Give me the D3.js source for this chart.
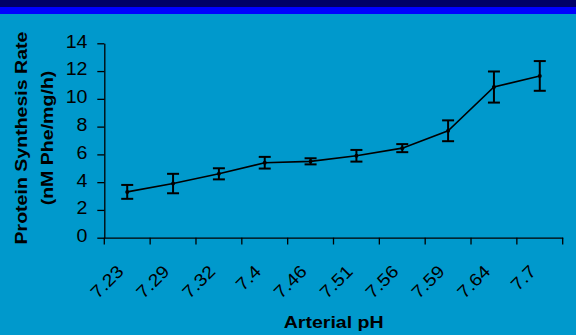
<!DOCTYPE html>
<html><head><meta charset="utf-8">
<script src="https://cdn.jsdelivr.net/npm/d3@7"></script>
<style>body{margin:0;padding:0;background:#0099CC;}svg{display:block;}</style>
</head><body>
<script>
const categories = ["7.23","7.29","7.32","7.4","7.46","7.51","7.56","7.59","7.64","7.7"];
const rates = [3.3, 3.9, 4.6, 5.4, 5.5, 5.9, 6.45, 7.7, 10.85, 11.65];
const errors = [0.5, 0.7, 0.4, 0.42, 0.22, 0.42, 0.29, 0.75, 1.12, 1.07];
const yTicks = [0,2,4,6,8,10,12,14];

const W=576,H=335;
const svg=d3.select("body").append("svg").attr("width",W).attr("height",H);
svg.append("rect").attr("width",W).attr("height",H).attr("fill","#0099CC");
svg.append("rect").attr("width",W).attr("height",7).attr("fill","#000066");
svg.append("rect").attr("y",7).attr("width",W).attr("height",7).attr("fill","#0000FF");

const x=d3.scaleBand().domain(categories).range([104.3,562.7]);
const y=d3.scaleLinear().domain([0,14]).range([237.7,43.3]);
const font="'Liberation Sans', Arial, sans-serif";
const SX=1.12, SXB=1.2;

const ya=svg.append("g").attr("transform","translate(104.3,0)")
  .call(d3.axisLeft(y).tickValues(yTicks).tickSize(7).tickFormat("").tickSizeOuter(0));
ya.selectAll("line,path").attr("stroke","#000").attr("stroke-width",1.3);
svg.append("g").selectAll("text").data(yTicks).join("text")
  .attr("transform",d=>`translate(87.5,${y(d)}) scale(${SX},1)`)
  .attr("text-anchor","end").attr("dy","0.25em")
  .attr("font-family",font).attr("font-size",17.5).attr("fill","#000").text(d=>d);

const xa=svg.append("g").attr("transform","translate(0,237.7)")
  .call(d3.axisBottom(x).tickSize(0).tickSizeOuter(0).tickFormat(""));
xa.select("path").attr("stroke","#000").attr("stroke-width",1.3);
const bounds=categories.map(c=>x(c)).concat([x.range()[1]]);
svg.append("g").selectAll("line").data(bounds).join("line")
  .attr("x1",d=>d).attr("x2",d=>d).attr("y1",237.7).attr("y2",244.5)
  .attr("stroke","#000").attr("stroke-width",1.3);
svg.append("g").selectAll("text").data(categories).join("text")
  .attr("transform",d=>`translate(${x(d)+x.bandwidth()/2-2.5},272.5) rotate(-45) scale(${SX},1)`)
  .attr("text-anchor","end")
  .attr("font-family",font).attr("font-size",17.5).attr("fill","#000").text(d=>d);

const cx=d=>x(d)+x.bandwidth()/2;
const data=categories.map((c,i)=>({c,v:rates[i],e:errors[i]}));
svg.append("path").datum(data)
  .attr("d",d3.line().x(d=>cx(d.c)).y(d=>y(d.v)))
  .attr("fill","none").attr("stroke","#000").attr("stroke-width",1.6);
const eb=svg.append("g").attr("stroke","#000").attr("stroke-width",2);
data.forEach(d=>{
  const X=cx(d.c);
  eb.append("line").attr("x1",X).attr("x2",X).attr("y1",y(d.v+d.e)).attr("y2",y(d.v-d.e));
  eb.append("line").attr("x1",X-6).attr("x2",X+6).attr("y1",y(d.v+d.e)).attr("y2",y(d.v+d.e));
  eb.append("line").attr("x1",X-6).attr("x2",X+6).attr("y1",y(d.v-d.e)).attr("y2",y(d.v-d.e));
});
svg.append("g").selectAll("circle").data(data).join("circle")
  .attr("cx",d=>cx(d.c)).attr("cy",d=>y(d.v)).attr("r",2).attr("fill","#000");

svg.append("text").attr("transform",`translate(26.7,138) rotate(-90) scale(${SXB},1)`)
  .attr("text-anchor","middle").attr("font-family",font).attr("font-weight","bold")
  .attr("font-size",16.3).attr("fill","#000").text("Protein Synthesis Rate");
svg.append("text").attr("transform",`translate(53,138) rotate(-90) scale(${SXB},1)`)
  .attr("text-anchor","middle").attr("font-family",font).attr("font-weight","bold")
  .attr("font-size",16.3).attr("fill","#000").text("(nM Phe/mg/h)");

svg.append("text").attr("transform",`translate(333.7,328.3) scale(${SXB},1)`)
  .attr("text-anchor","middle")
  .attr("font-family",font).attr("font-weight","bold").attr("font-size",16.3)
  .attr("fill","#000").text("Arterial pH");
</script>
</body></html>
